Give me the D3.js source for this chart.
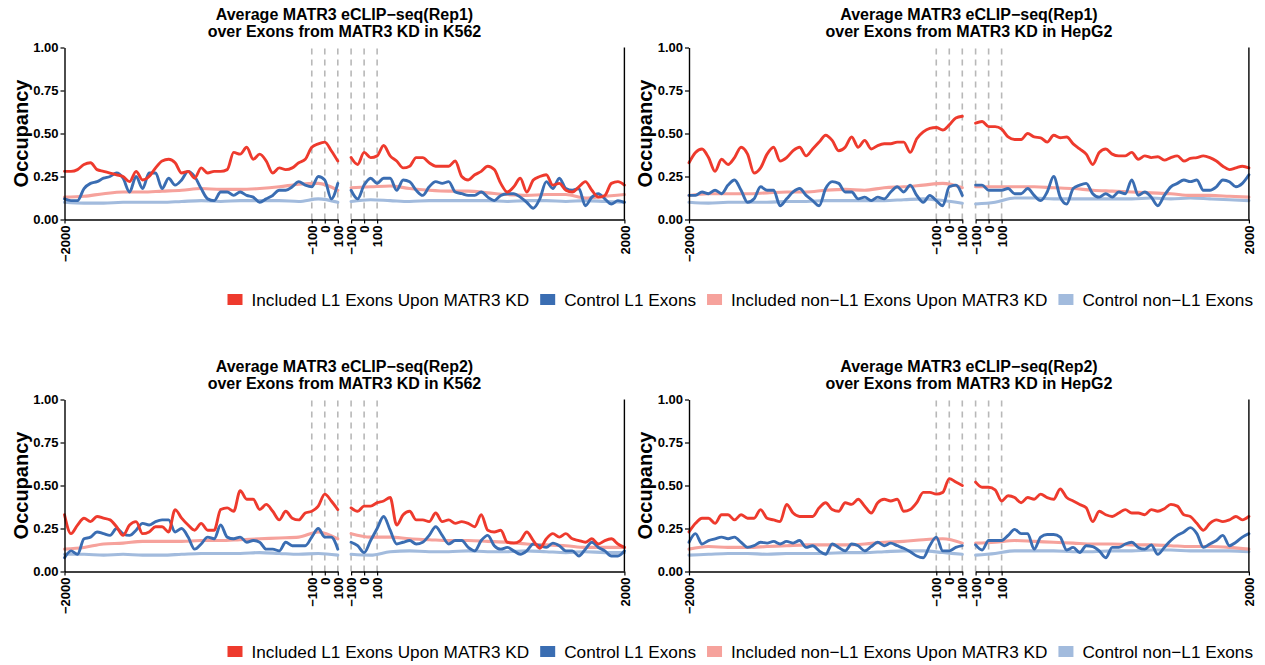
<!DOCTYPE html>
<html>
<head>
<meta charset="utf-8">
<script src="https://cdn.jsdelivr.net/npm/d3@7"></script>
<style>
  body { margin: 0; background: #fff; }
  svg text { font-family: "Liberation Sans", Arial, Helvetica, sans-serif; }
</style>
</head>
<body>
<svg id="chart" width="1265" height="665"></svg>
<script>
// Positions (bp) around the upstream (3'ss) and downstream (5'ss) exon boundaries
const upstreamPos = d3.range(-2000, 101, 50);          // 43 points
const downstreamPos = d3.range(-100, 2001, 50);        // 43 points
const upstreamPosCoarse = d3.range(-2000, 101, 150);   // 15 points
const downstreamPosCoarse = d3.range(-100, 2001, 150); // 15 points

const seriesNames = [
  "Included L1 Exons Upon MATR3 KD",
  "Control L1 Exons",
  "Included non\u2212L1 Exons Upon MATR3 KD",
  "Control non\u2212L1 Exons"
];
const seriesColors = ["#EE3A2D", "#3A6DB2", "#F6A29C", "#A2BBDD"];

const yTickValues = [0, 0.25, 0.5, 0.75, 1];
const upstreamTicks = [-2000, -100, 0, 100];
const downstreamTicks = [-100, 0, 100, 2000];
const boundaryMarks = [-100, 0, 100];

// ---- Rep1, K562 ----
const rep1K562IncL1Up = [0.28,0.28,0.29,0.32,0.33,0.29,0.28,0.27,0.26,0.25,0.22,0.28,0.23,0.25,0.30,0.34,0.35,0.33,0.27,0.28,0.24,0.30,0.27,0.28,0.28,0.29,0.39,0.38,0.42,0.35,0.38,0.34,0.27,0.30,0.29,0.30,0.33,0.35,0.42,0.44,0.45,0.40,0.34];
const rep1K562IncL1Down = [0.36,0.32,0.39,0.36,0.37,0.43,0.37,0.34,0.30,0.31,0.36,0.36,0.33,0.31,0.31,0.31,0.34,0.25,0.23,0.26,0.28,0.31,0.29,0.21,0.16,0.19,0.24,0.16,0.23,0.25,0.26,0.20,0.21,0.17,0.16,0.19,0.22,0.17,0.13,0.14,0.21,0.22,0.20];
const rep1K562CtrlL1Up = [0.12,0.11,0.11,0.18,0.21,0.22,0.24,0.25,0.27,0.24,0.16,0.25,0.18,0.27,0.27,0.18,0.24,0.20,0.23,0.28,0.25,0.18,0.12,0.11,0.16,0.16,0.14,0.16,0.14,0.13,0.10,0.12,0.14,0.17,0.17,0.19,0.22,0.20,0.19,0.25,0.23,0.12,0.21];
const rep1K562CtrlL1Down = [0.17,0.12,0.20,0.24,0.21,0.24,0.24,0.17,0.23,0.22,0.17,0.14,0.19,0.22,0.21,0.22,0.16,0.15,0.14,0.14,0.16,0.13,0.11,0.14,0.15,0.15,0.13,0.10,0.065,0.12,0.22,0.18,0.24,0.18,0.17,0.18,0.08,0.13,0.15,0.12,0.09,0.11,0.10];
const rep1K562IncNonUp = [0.13,0.135,0.15,0.16,0.16,0.165,0.17,0.18,0.175,0.175,0.18,0.19,0.205,0.21,0.17];
const rep1K562IncNonDown = [0.185,0.19,0.195,0.18,0.17,0.165,0.165,0.155,0.145,0.14,0.145,0.145,0.125,0.135,0.145];
const rep1K562CtrlNonUp = [0.10,0.095,0.095,0.10,0.10,0.10,0.105,0.11,0.105,0.11,0.11,0.11,0.105,0.12,0.10];
const rep1K562CtrlNonDown = [0.105,0.115,0.11,0.105,0.11,0.11,0.11,0.11,0.105,0.11,0.11,0.105,0.11,0.105,0.10];

// ---- Rep1, HepG2 ----
const rep1HepG2IncL1Up = [0.33,0.39,0.41,0.36,0.28,0.35,0.32,0.36,0.42,0.38,0.27,0.30,0.38,0.42,0.34,0.36,0.40,0.42,0.37,0.41,0.45,0.49,0.46,0.40,0.42,0.48,0.42,0.46,0.41,0.43,0.44,0.44,0.45,0.45,0.39,0.47,0.51,0.53,0.535,0.52,0.55,0.59,0.60];
const rep1HepG2IncL1Down = [0.56,0.57,0.54,0.54,0.525,0.48,0.465,0.465,0.50,0.48,0.475,0.45,0.49,0.475,0.48,0.44,0.41,0.38,0.32,0.39,0.41,0.38,0.37,0.37,0.39,0.35,0.37,0.36,0.365,0.345,0.36,0.37,0.34,0.355,0.36,0.37,0.36,0.34,0.31,0.29,0.30,0.31,0.30];
const rep1HepG2CtrlL1Up = [0.14,0.14,0.16,0.15,0.17,0.15,0.20,0.23,0.17,0.10,0.12,0.19,0.17,0.17,0.08,0.12,0.16,0.18,0.14,0.11,0.08,0.18,0.22,0.21,0.16,0.16,0.12,0.13,0.11,0.13,0.12,0.16,0.19,0.16,0.20,0.14,0.10,0.14,0.11,0.08,0.19,0.20,0.14];
const rep1HepG2CtrlL1Down = [0.20,0.20,0.17,0.17,0.17,0.18,0.15,0.15,0.18,0.14,0.11,0.16,0.25,0.13,0.09,0.18,0.20,0.21,0.15,0.13,0.15,0.13,0.16,0.15,0.23,0.14,0.16,0.13,0.08,0.14,0.19,0.21,0.23,0.22,0.23,0.17,0.17,0.19,0.23,0.22,0.19,0.21,0.26];
const rep1HepG2IncNonUp = [0.14,0.15,0.15,0.15,0.155,0.16,0.16,0.17,0.175,0.17,0.185,0.19,0.20,0.21,0.185];
const rep1HepG2IncNonDown = [0.19,0.19,0.19,0.19,0.185,0.18,0.17,0.165,0.16,0.155,0.15,0.14,0.14,0.135,0.13];
const rep1HepG2CtrlNonUp = [0.10,0.095,0.10,0.10,0.10,0.105,0.105,0.11,0.11,0.11,0.11,0.115,0.12,0.11,0.095];
const rep1HepG2CtrlNonDown = [0.09,0.10,0.125,0.125,0.12,0.12,0.12,0.12,0.12,0.125,0.12,0.125,0.12,0.115,0.11];

// ---- Rep2, K562 ----
const rep2K562IncL1Up = [0.33,0.22,0.27,0.31,0.29,0.32,0.31,0.30,0.26,0.21,0.27,0.29,0.22,0.23,0.26,0.26,0.23,0.36,0.31,0.27,0.24,0.28,0.24,0.24,0.36,0.37,0.35,0.47,0.42,0.42,0.36,0.39,0.35,0.30,0.35,0.31,0.30,0.34,0.35,0.38,0.45,0.41,0.36];
const rep2K562IncL1Down = [0.37,0.35,0.38,0.38,0.40,0.41,0.43,0.27,0.33,0.35,0.30,0.30,0.29,0.34,0.29,0.30,0.28,0.29,0.28,0.26,0.33,0.24,0.23,0.24,0.17,0.165,0.18,0.23,0.18,0.135,0.19,0.22,0.20,0.22,0.19,0.18,0.17,0.19,0.16,0.18,0.19,0.16,0.14];
const rep2K562CtrlL1Up = [0.08,0.12,0.10,0.19,0.20,0.23,0.22,0.21,0.25,0.22,0.21,0.24,0.28,0.27,0.29,0.30,0.30,0.23,0.25,0.20,0.13,0.16,0.20,0.19,0.27,0.20,0.19,0.20,0.17,0.18,0.17,0.13,0.13,0.12,0.17,0.15,0.15,0.15,0.20,0.25,0.20,0.20,0.13];
const rep2K562CtrlL1Down = [0.17,0.15,0.11,0.18,0.25,0.32,0.24,0.16,0.17,0.18,0.16,0.17,0.21,0.26,0.21,0.16,0.18,0.18,0.14,0.12,0.18,0.21,0.15,0.13,0.14,0.12,0.10,0.12,0.16,0.15,0.14,0.165,0.15,0.12,0.12,0.09,0.13,0.17,0.14,0.12,0.09,0.09,0.12];
const rep2K562IncNonUp = [0.13,0.14,0.16,0.165,0.175,0.175,0.175,0.18,0.18,0.185,0.19,0.195,0.20,0.23,0.19];
const rep2K562IncNonDown = [0.22,0.20,0.20,0.19,0.185,0.18,0.18,0.175,0.17,0.16,0.155,0.15,0.14,0.14,0.14];
const rep2K562CtrlNonUp = [0.10,0.10,0.095,0.10,0.095,0.095,0.10,0.105,0.105,0.105,0.11,0.105,0.10,0.105,0.095];
const rep2K562CtrlNonDown = [0.10,0.095,0.115,0.12,0.115,0.115,0.12,0.115,0.115,0.12,0.115,0.11,0.115,0.11,0.11];

// ---- Rep2, HepG2 ----
const rep2HepG2IncL1Up = [0.23,0.28,0.31,0.31,0.28,0.33,0.33,0.30,0.33,0.31,0.31,0.36,0.31,0.30,0.29,0.39,0.34,0.32,0.32,0.32,0.37,0.40,0.36,0.35,0.40,0.39,0.42,0.38,0.34,0.40,0.42,0.41,0.42,0.35,0.36,0.40,0.46,0.46,0.45,0.46,0.54,0.52,0.50];
const rep2HepG2IncL1Down = [0.52,0.49,0.49,0.475,0.41,0.44,0.43,0.40,0.43,0.42,0.45,0.43,0.42,0.48,0.43,0.41,0.39,0.37,0.29,0.35,0.33,0.32,0.34,0.36,0.34,0.34,0.33,0.36,0.35,0.365,0.39,0.38,0.33,0.32,0.28,0.24,0.28,0.30,0.29,0.30,0.32,0.30,0.32];
const rep2HepG2CtrlL1Up = [0.17,0.22,0.16,0.18,0.19,0.20,0.19,0.20,0.17,0.14,0.15,0.17,0.165,0.175,0.16,0.175,0.165,0.18,0.14,0.15,0.12,0.10,0.16,0.14,0.12,0.16,0.15,0.12,0.145,0.17,0.15,0.165,0.15,0.135,0.115,0.09,0.08,0.15,0.20,0.12,0.12,0.14,0.15];
const rep2HepG2CtrlL1Down = [0.155,0.125,0.18,0.18,0.18,0.21,0.245,0.22,0.22,0.13,0.20,0.215,0.215,0.20,0.125,0.14,0.11,0.15,0.145,0.12,0.08,0.14,0.14,0.16,0.17,0.14,0.13,0.155,0.10,0.14,0.18,0.21,0.23,0.255,0.22,0.14,0.16,0.18,0.21,0.15,0.17,0.20,0.22];
const rep2HepG2IncNonUp = [0.13,0.145,0.14,0.14,0.145,0.15,0.155,0.155,0.155,0.16,0.17,0.175,0.185,0.19,0.165];
const rep2HepG2IncNonDown = [0.165,0.17,0.18,0.175,0.17,0.165,0.16,0.16,0.155,0.155,0.15,0.145,0.145,0.14,0.13];
const rep2HepG2CtrlNonUp = [0.095,0.10,0.105,0.105,0.10,0.105,0.105,0.105,0.11,0.11,0.115,0.12,0.12,0.11,0.10];
const rep2HepG2CtrlNonDown = [0.095,0.105,0.12,0.12,0.12,0.115,0.115,0.12,0.12,0.125,0.125,0.12,0.12,0.12,0.115];

const panels = [
  { title: ["Average MATR3 eCLIP\u2212seq(Rep1)", "over Exons from MATR3 KD in K562"], col: 0, row: 0,
    up: [rep1K562IncL1Up, rep1K562CtrlL1Up, rep1K562IncNonUp, rep1K562CtrlNonUp],
    down: [rep1K562IncL1Down, rep1K562CtrlL1Down, rep1K562IncNonDown, rep1K562CtrlNonDown] },
  { title: ["Average MATR3 eCLIP\u2212seq(Rep1)", "over Exons from MATR3 KD in HepG2"], col: 1, row: 0,
    up: [rep1HepG2IncL1Up, rep1HepG2CtrlL1Up, rep1HepG2IncNonUp, rep1HepG2CtrlNonUp],
    down: [rep1HepG2IncL1Down, rep1HepG2CtrlL1Down, rep1HepG2IncNonDown, rep1HepG2CtrlNonDown] },
  { title: ["Average MATR3 eCLIP\u2212seq(Rep2)", "over Exons from MATR3 KD in K562"], col: 0, row: 1,
    up: [rep2K562IncL1Up, rep2K562CtrlL1Up, rep2K562IncNonUp, rep2K562CtrlNonUp],
    down: [rep2K562IncL1Down, rep2K562CtrlL1Down, rep2K562IncNonDown, rep2K562CtrlNonDown] },
  { title: ["Average MATR3 eCLIP\u2212seq(Rep2)", "over Exons from MATR3 KD in HepG2"], col: 1, row: 1,
    up: [rep2HepG2IncL1Up, rep2HepG2CtrlL1Up, rep2HepG2IncNonUp, rep2HepG2CtrlNonUp],
    down: [rep2HepG2IncL1Down, rep2HepG2CtrlL1Down, rep2HepG2IncNonDown, rep2HepG2CtrlNonDown] }
];

// ---- layout ----
const colX = [64.5, 689];      // left edge of each panel's plotting area
const rowY = [47.5, 399.5];    // top (occupancy = 1) of each row
const plotH = 172;
const facetW = 273.3;
const facetGap = 13.3;
const legendY = [300, 652];

const svg = d3.select("#chart");

const y = d3.scaleLinear().domain([0, 1]).range([plotH, 0]);

function styleAxis(g) {
  g.select(".domain").attr("stroke", "#000").attr("stroke-width", 1.4);
  g.selectAll(".tick line").attr("stroke", "#000").attr("stroke-width", 1.2);
  g.selectAll(".tick text")
    .attr("fill", "#000")
    .style("font-size", "13px")
    .style("font-weight", "bold");
}

// draw order: light background series first, L1 series on top
const drawOrder = [3, 2, 1, 0];

panels.forEach(p => {
  const g = svg.append("g").attr("transform", `translate(${colX[p.col]},${rowY[p.row]})`);
  const totalW = 2 * facetW + facetGap;

  // title
  const title = g.append("text")
    .attr("x", totalW / 2)
    .attr("text-anchor", "middle")
    .style("font-size", "16px")
    .style("font-weight", "bold")
    .attr("fill", "#000");
  title.append("tspan").attr("x", totalW / 2).attr("y", -28).text(p.title[0]);
  title.append("tspan").attr("x", totalW / 2).attr("y", -11).text(p.title[1]);

  // y label
  g.append("text")
    .attr("transform", `translate(-37,${plotH / 2}) rotate(-90)`)
    .attr("text-anchor", "middle")
    .style("font-size", "20px")
    .style("font-weight", "bold")
    .attr("fill", "#000")
    .text("Occupancy");

  const facets = [
    { x0: 0, domain: [-2000, 100], pos: upstreamPos, posCoarse: upstreamPosCoarse, vals: p.up, ticks: upstreamTicks },
    { x0: facetW + facetGap, domain: [-100, 2000], pos: downstreamPos, posCoarse: downstreamPosCoarse, vals: p.down, ticks: downstreamTicks }
  ];

  facets.forEach((f, fi) => {
    const x = d3.scaleLinear().domain(f.domain).range([f.x0, f.x0 + facetW]);

    // dashed boundary guides
    g.append("g").selectAll("line")
      .data(boundaryMarks)
      .join("line")
      .attr("x1", d => x(d)).attr("x2", d => x(d))
      .attr("y1", y(0)).attr("y2", y(1))
      .attr("stroke", "#B8B8B8")
      .attr("stroke-width", 1.6)
      .attr("stroke-dasharray", "6,5");

    // occupancy profiles
    drawOrder.forEach(si => {
      const values = f.vals[si];
      const positions = si < 2 ? f.pos : f.posCoarse;
      const pts = positions.map((pos, i) => [pos, values[i]]);
      const line = d3.line()
        .x(d => x(d[0]))
        .y(d => y(d[1]))
        .curve(d3.curveMonotoneX);
      g.append("path")
        .datum(pts)
        .attr("d", line)
        .attr("fill", "none")
        .attr("stroke", seriesColors[si])
        .attr("stroke-width", si < 2 ? 2.9 : 3.1)
        .attr("stroke-linejoin", "round")
        .attr("stroke-linecap", "round");
    });

    // x axis
    const xAxis = g.append("g")
      .attr("transform", `translate(0,${plotH})`)
      .call(d3.axisBottom(x).tickValues(f.ticks).tickSize(4).tickSizeOuter(0).tickFormat(d3.format("d")));
    styleAxis(xAxis);
    xAxis.selectAll(".tick text")
      .attr("transform", "rotate(-90)")
      .attr("x", -6)
      .attr("y", 0)
      .attr("dy", "0.36em")
      .style("text-anchor", "end");

    if (fi === 0) {
      const yAxis = g.append("g")
        .call(d3.axisLeft(y).tickValues(yTickValues).tickSize(4).tickSizeOuter(0).tickFormat(d3.format(".2f")));
      styleAxis(yAxis);
      yAxis.selectAll(".tick text").attr("x", -6);
    } else {
      // closing line on the right edge
      g.append("line")
        .attr("x1", f.x0 + facetW).attr("x2", f.x0 + facetW)
        .attr("y1", y(0)).attr("y2", y(1))
        .attr("stroke", "#000")
        .attr("stroke-width", 1.4);
    }
  });
});

// ---- legends ----
legendY.forEach(ly => {
  const lg = svg.append("g");
  const items = lg.selectAll("g").data(seriesNames).join("g");
  items.append("rect")
    .attr("width", 15).attr("height", 11)
    .attr("y", -12)
    .attr("fill", (d, i) => seriesColors[i]);
  items.append("text")
    .attr("x", 24)
    .attr("y", 0)
    .style("font-size", "17.2px")
    .attr("fill", "#000")
    .text(d => d);
  let cx = 0;
  items.each(function () {
    const w = d3.select(this).select("text").node().getComputedTextLength();
    d3.select(this).attr("data-x", cx);
    cx += 24 + w + 11;
  });
  const totalW = cx - 11;
  const startX = 1253 - totalW;
  items.attr("transform", function () {
    return `translate(${startX + (+d3.select(this).attr("data-x"))},${ly + 6})`;
  });
});
</script>
</body>
</html>
